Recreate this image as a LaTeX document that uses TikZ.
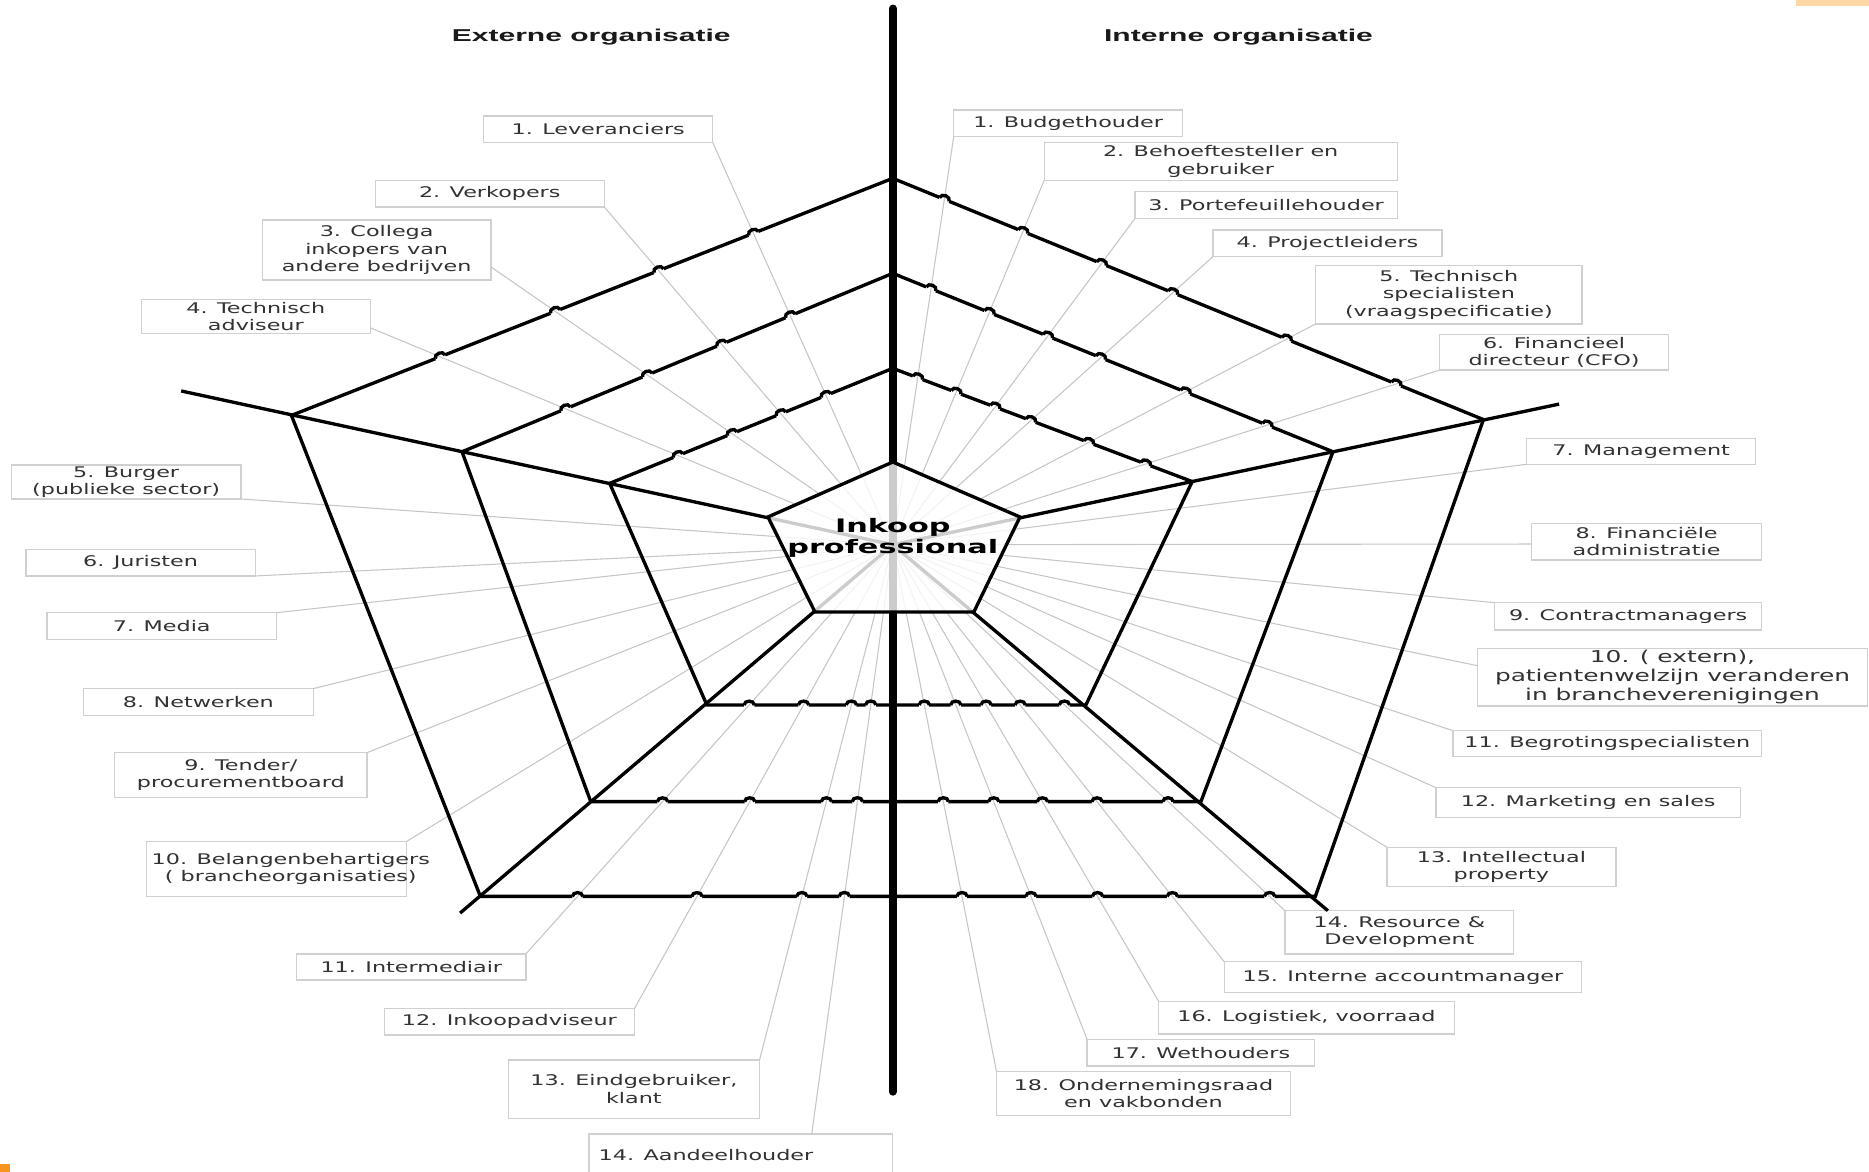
\documentclass[tikz,border=0pt]{standalone}
\usepackage{fontspec}
\usetikzlibrary{calc}
\newfontfamily\labfont{DejaVu Sans}
\newfontfamily\headfont{Liberation Sans}
\definecolor{txtgray}{RGB}{50,50,50}
\definecolor{boxgray}{RGB}{208,208,208}
\definecolor{linegray}{RGB}{198,198,198}
\definecolor{paleorange}{RGB}{253,216,165}
\definecolor{deeporange}{RGB}{247,148,29}

\tikzset{
  edge/.style={line width=2.8pt, draw=black},
  axisline/.style={line width=6.4pt, draw=black, line cap=round},
  gline/.style={line width=0.9pt, draw=linegray},
  lbox/.style={draw=boxgray, line width=1.1pt, rectangle, inner sep=0pt, outer sep=0pt, fill=white},
  ltext/.style={font=\labfont\fontsize{12.3}{14.5}\selectfont, text=txtgray, align=center, xscale=1.52, inner sep=0pt},
  bigtext/.style={font=\labfont\fontsize{13.7}{16}\selectfont},
  head/.style={font=\headfont\bfseries\fontsize{14.4}{17}\selectfont, text=black!90, xscale=1.75, inner sep=0pt},
  core/.style={font=\labfont\bfseries\fontsize{15.6}{17.7}\selectfont, text=black, align=center, xscale=1.63, inner sep=0pt},
}

% a stakeholder box: name, x1, y1, x2, y2, text (optional text shift)
\newcommand\partybox[7][0pt]{%
  \node[lbox, minimum width={#5-#3}, minimum height={#6-#4}] (#2) at ({(#3+#5)/2},{(#4+#6)/2}) {};
  \node[ltext, xshift=#1] (#2t) at (#2.center) {#7};}

% line jump where a connector from #1 crosses the ring edge #2--#3
\newcommand\jumpover[3]{%
  \coordinate (hp) at (intersection of #1--C and #2--#3);
  \coordinate (ha) at ($(hp)!4.3pt!(#2)$);
  \coordinate (hb) at ($(hp)!4.3pt!(#3)$);
  \draw[white, line width=3.8pt] (ha) -- (hb);
  \draw[gline] ($(hp)!3pt!(C)$) -- ($(hp)!-3pt!(C)$);
  \draw[edge] (ha) .. controls ($(ha)!4.3pt!90:(hb)$) and ($(hb)!4.3pt!-90:(ha)$) .. (hb);}

\begin{document}
\begin{tikzpicture}[x=1pt,y=-1pt]
\useasboundingbox (0,0) rectangle (1568,983);
\clip (0,0) rectangle (1568,983);

% centre and rings
\coordinate (C) at (749,457);
\coordinate (P1T) at (749,387.6);  \coordinate (P1UL) at (644.3,433.7); \coordinate (P1UR) at (855.7,433.7);
\coordinate (P1LR) at (817,513.4); \coordinate (P1LL) at (683.7,513.4);
\coordinate (P2T) at (749,309);    \coordinate (P2UL) at (511.5,405.5); \coordinate (P2UR) at (1000.2,404);
\coordinate (P2LR) at (911,591.4); \coordinate (P2LL) at (593,591.4);
\coordinate (P3T) at (749,229.3);  \coordinate (P3UL) at (387.6,379);   \coordinate (P3UR) at (1118.3,379);
\coordinate (P3LR) at (1007.5,672.5); \coordinate (P3LL) at (495.6,672.5);
\coordinate (P4T) at (749,149.6);  \coordinate (P4UL) at (244.5,348.5); \coordinate (P4UR) at (1244.5,352);
\coordinate (P4LR) at (1103.5,752); \coordinate (P4LL) at (403,752);
\coordinate (XUL) at (152,328); \coordinate (XUR) at (1308,339);
\coordinate (XLL) at (386,766); \coordinate (XLR) at (1114,764);
\coordinate (AxT) at (749,7); \coordinate (AxB) at (749,916);

% external stakeholders
\partybox{L1}{405.7}{97.3}{598}{119.7}{1. Leveranciers}
\partybox{L2}{314.8}{151.3}{507}{173.7}{2. Verkopers}
\partybox{L3}{220}{184.6}{412}{234.9}{3. Collega\\inkopers van\\andere bedrijven}
\partybox{L4}{118.5}{251}{310.8}{279.6}{4. Technisch\\adviseur}
\partybox{L5}{9.4}{390}{202.3}{418.6}{5. Burger\\(publieke sector)}
\partybox{L6}{21.7}{460.8}{214.2}{483.2}{6. Juristen}
\partybox{L7}{39.3}{514}{232.2}{536.3}{7. Media}
\partybox{L8}{70}{577.7}{262.9}{600}{8. Netwerken}
\partybox{L9}{96.2}{631.4}{307.9}{668.9}{9. Tender/\\procurementboard}
\partybox[8pt]{L10}{122.8}{706.1}{340.8}{752.2}{10. Belangenbehartigers\\( brancheorganisaties)}
\partybox{L11}{249}{800.3}{441.2}{822.1}{11. Intermediair}
\partybox{L12}{322.3}{845.9}{532.4}{868.3}{12. Inkoopadviseur}
\partybox{L13}{426.4}{889.3}{637.2}{938.2}{13. Eindgebruiker,\\klant}
\node[lbox, minimum width=254.9, minimum height=48.7] (L14) at (621.55,975.65) {};
\node[ltext, anchor=west] (L14t) at (502,969) {14. Aandeelhouder};

% internal stakeholders
\partybox{R1}{800.1}{92.3}{992.2}{114.7}{1. Budgethouder}
\partybox{R2}{876}{119.4}{1172.2}{151.3}{2. Behoeftesteller en\\gebruiker}
\partybox{R3}{952.2}{160.8}{1172.2}{183.2}{3. Portefeuillehouder}
\partybox{R4}{1017.6}{193}{1209.7}{215.3}{4. Projectleiders}
\partybox{R5}{1103.7}{222.9}{1327.3}{271.8}{5. Technisch\\specialisten\\(vraagspecificatie)}
\partybox{R6}{1207.8}{280.5}{1399.8}{310.4}{6. Financieel\\directeur (CFO)}
\partybox{R7}{1280.8}{367.7}{1472.9}{389.5}{7. Management}
\partybox{R8}{1284.9}{439}{1477.9}{469.8}{8. Financiële\\administratie}
\partybox{R9}{1254}{505.6}{1477.9}{528.5}{9. Contractmanagers}
\node[lbox, minimum width=327.1, minimum height=48.4] (R10) at (1403.15,568.1) {};
\node[ltext, bigtext] (R10t) at (R10.center) {10. ( extern),\\patientenwelzijn veranderen\\in brancheverenigingen};
\partybox{R11}{1219}{613}{1477.9}{634.8}{11. Begrotingspecialisten}
\partybox{R12}{1204.7}{660.8}{1460.2}{685.7}{12. Marketing en sales}
\partybox{R13}{1163.5}{710.8}{1355.7}{743.9}{13. Intellectual\\property}
\partybox{R14}{1078}{764}{1270}{800.3}{14. Resource \&\\Development}
\partybox{R15}{1027}{806.8}{1327}{832.8}{15. Interne accountmanager}
\partybox{R16}{972}{840}{1220}{867.5}{16. Logistiek, voorraad}
\partybox{R17}{912}{871.9}{1103}{894.3}{17. Wethouders}
\partybox{R18}{836}{899}{1082.6}{936}{18. Ondernemingsraad\\en vakbonden}

% where each connector leaves its box
\coordinate (aL1) at (L1.south east);
\coordinate (aL2) at (L2.south east);
\coordinate (aL3) at ($(L3.south east)+(0,-10.9)$);
\coordinate (aL4) at ($(L4.south east)+(0,-4.6)$);
\coordinate (aL5) at (L5.south east);
\coordinate (aL6) at (L6.south east);
\coordinate (aL7) at (L7.north east);
\coordinate (aL8) at (L8.north east);
\coordinate (aL9) at (L9.north east);
\coordinate (aL10) at (L10.north east);
\coordinate (aL11) at (L11.north east);
\coordinate (aL12) at (L12.north east);
\coordinate (aL13) at (L13.north east);
\coordinate (aL14) at ($(L14.north west)+(186.9,0)$);
\coordinate (aR1) at (R1.south west);
\coordinate (aR2) at (R2.south west);
\coordinate (aR3) at (R3.south west);
\coordinate (aR4) at (R4.south west);
\coordinate (aR5) at (R5.south west);
\coordinate (aR6) at (R6.south west);
\coordinate (aR7) at (R7.south west);
\coordinate (aR8) at ($(R8.west)+(0,2)$);
\coordinate (aR9) at (R9.north west);
\coordinate (aR10) at ($(R10.north west)+(0,14.6)$);
\coordinate (aR11) at (R11.north west);
\coordinate (aR12) at (R12.north west);
\coordinate (aR13) at (R13.north west);
\coordinate (aR14) at (R14.north west);
\coordinate (aR15) at (R15.north west);
\coordinate (aR16) at (R16.north west);
\coordinate (aR17) at (R17.north west);
\coordinate (aR18) at (R18.north west);

% connectors to the centre
\foreach \a in {aL1,aL2,aL3,aL4,aL5,aL6,aL7,aL8,aL9,aL10,aL11,aL12,aL13,aL14,
                aR1,aR2,aR3,aR4,aR5,aR6,aR7,aR8,aR9,aR10,aR11,aR12,aR13,aR14,aR15,aR16,aR17,aR18}
  \draw[gline] (\a) -- (C);

% spokes and axis
\draw[edge] (C) -- (XUL);
\draw[edge] (C) -- (XUR);
\draw[edge] (C) -- (XLL);
\draw[edge] (C) -- (XLR);
\draw[axisline] (AxT) -- (AxB);

% rings
\foreach \k in {2,3,4}
  \draw[edge] (P\k T) -- (P\k UR) -- (P\k LR) -- (P\k LL) -- (P\k UL) -- cycle;

% line jumps on the near-horizontal ring edges
\foreach \a in {aL1,aL2,aL3,aL4}
  \foreach \k in {2,3,4} {\jumpover{\a}{P\k UL}{P\k T}}
\foreach \a in {aR1,aR2,aR3,aR4,aR5,aR6}
  \foreach \k in {2,3,4} {\jumpover{\a}{P\k T}{P\k UR}}
\foreach \a in {aL11,aL12,aL13,aL14,aR14,aR15,aR16,aR17,aR18}
  \foreach \k in {2,3,4} {\jumpover{\a}{P\k LL}{P\k LR}}

% core
\fill[white, opacity=0.8] (P1T) -- (P1UR) -- (P1LR) -- (P1LL) -- (P1UL) -- cycle;
\draw[edge] (P1T) -- (P1UR) -- (P1LR) -- (P1LL) -- (P1UL) -- cycle;
\node[core] (core) at (749,451) {Inkoop\\professional};

% headings
\node[head, anchor=base] (hE) at (496,35.2) {Externe organisatie};
\node[head, anchor=base] (hI) at (1039,35.2) {Interne organisatie};

% corner marks
\fill[paleorange] (1507,0) rectangle (1568,5.2);
\fill[deeporange] (0,976.5) rectangle (8.4,983);
\end{tikzpicture}
\end{document}
